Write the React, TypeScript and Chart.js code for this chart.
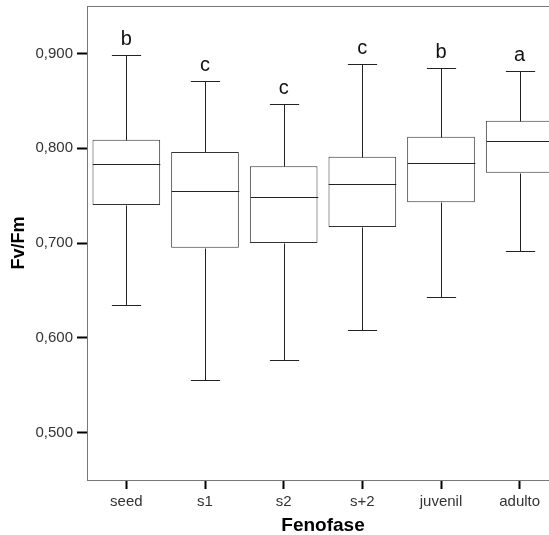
import React, { useEffect, useRef } from "react";
import { Chart, registerables } from "chart.js";

Chart.register(...registerables);

const categories = ["seed", "s1", "s2", "s+2", "juvenil", "adulto"];
const whiskerMax = [0.898, 0.871, 0.847, 0.889, 0.885, 0.881];
const q3 = [0.809, 0.796, 0.781, 0.791, 0.812, 0.829];
const median = [0.783, 0.755, 0.749, 0.762, 0.784, 0.808];
const q1 = [0.74, 0.695, 0.7, 0.717, 0.743, 0.774];
const whiskerMin = [0.635, 0.556, 0.577, 0.608, 0.643, 0.692];
const sigLetters = ["b", "c", "c", "c", "b", "a"];
const yTickValues = [0.5, 0.6, 0.7, 0.8, 0.9];
const yMin = 0.45;
const yMax = 0.95;

const FONT = '"Liberation Sans", Arial, sans-serif';
const CANVAS_W = 570;
const CANVAS_H = 535;

const boxDecor = {
  id: "boxDecor",
  afterDatasetsDraw(chart: any) {
    const { ctx, chartArea, scales } = chart;
    const y = scales.y;
    const meta = chart.getDatasetMeta(0);
    ctx.save();
    ctx.strokeStyle = "#777";
    ctx.lineWidth = 1;
    ctx.beginPath();
    ctx.moveTo(chartArea.left, Math.round(chartArea.top) + 0.5);
    ctx.lineTo(chartArea.right, Math.round(chartArea.top) + 0.5);
    ctx.stroke();

    ctx.strokeStyle = "#222";
    ctx.lineWidth = 1;
    meta.data.forEach((bar: any, i: number) => {
      const cx = Math.round(bar.x) + 0.5;
      const half = bar.width / 2;
      const capHalf = bar.width * 0.216;
      const py = (v: number) => Math.round(y.getPixelForValue(v)) + 0.5;
      ctx.beginPath();
      ctx.moveTo(cx - half, py(median[i]));
      ctx.lineTo(cx + half, py(median[i]));
      ctx.moveTo(cx, py(q3[i]));
      ctx.lineTo(cx, py(whiskerMax[i]));
      ctx.moveTo(cx - capHalf, py(whiskerMax[i]));
      ctx.lineTo(cx + capHalf, py(whiskerMax[i]));
      ctx.moveTo(cx, py(q1[i]));
      ctx.lineTo(cx, py(whiskerMin[i]));
      ctx.moveTo(cx - capHalf, py(whiskerMin[i]));
      ctx.lineTo(cx + capHalf, py(whiskerMin[i]));
      ctx.stroke();

      ctx.fillStyle = "#111";
      ctx.font = `20px ${FONT}`;
      ctx.textAlign = "center";
      ctx.textBaseline = "alphabetic";
      ctx.fillText(sigLetters[i], bar.x, y.getPixelForValue(whiskerMax[i]) - 10);
    });
    ctx.restore();
  },
};

export default function App() {
  const ref = useRef<HTMLCanvasElement | null>(null);

  useEffect(() => {
    if (!ref.current) return;
    const chart = new Chart(ref.current, {
      type: "bar",
      data: {
        labels: categories,
        datasets: [
          {
            data: categories.map((_, i) => [q1[i], q3[i]]),
            backgroundColor: "#ffffff",
            borderColor: "#333",
            borderWidth: 1,
            borderSkipped: false,
            barPercentage: 0.86,
            categoryPercentage: 1,
          },
        ],
      },
      options: {
        responsive: false,
        animation: false,
        devicePixelRatio: 1,
        layout: { padding: { top: 6, right: CANVAS_W - 559, left: 0, bottom: 0 } },
        plugins: {
          legend: { display: false },
          tooltip: { enabled: false },
        },
        scales: {
          x: {
            grid: {
              display: true,
              offset: false,
              drawOnChartArea: false,
              drawTicks: true,
              tickLength: 9,
              tickWidth: 2,
              tickColor: "#000",
            },
            border: { display: true, color: "#777", width: 1 },
            ticks: {
              color: "#333",
              font: { family: FONT, size: 15 },
              padding: 4,
              maxRotation: 0,
            },
            title: {
              display: true,
              text: "Fenofase",
              color: "#000",
              font: { family: FONT, size: 19, weight: "bold" },
              padding: { top: 0, bottom: -2 },
            },
            afterFit: (s: any) => {
              s.height = CANVAS_H - 480;
              s.paddingLeft = 0;
              s.paddingRight = 0;
            },
          },
          y: {
            min: yMin,
            max: yMax,
            afterBuildTicks: (s: any) => {
              s.ticks = yTickValues.map((v) => ({ value: v }));
            },
            grid: {
              display: true,
              drawOnChartArea: false,
              drawTicks: true,
              tickLength: 10,
              tickWidth: 2,
              tickColor: "#000",
            },
            border: { display: true, color: "#777", width: 1 },
            ticks: {
              color: "#333",
              font: { family: FONT, size: 15 },
              padding: 4,
              callback: (v: any) => Number(v).toFixed(3).replace(".", ","),
            },
            title: {
              display: true,
              text: "Fv/Fm",
              color: "#000",
              font: { family: FONT, size: 18, weight: "bold" },
              padding: { top: 8, bottom: 0 },
            },
            afterFit: (s: any) => {
              s.width = 87;
              s.paddingTop = 0;
              s.paddingBottom = 0;
            },
          },
        },
      },
      plugins: [boxDecor],
    });
    return () => chart.destroy();
  }, []);

  return (
    <div
      style={{
        position: "fixed",
        left: 0,
        top: 0,
        width: 549,
        height: 535,
        overflow: "hidden",
        background: "#fff",
      }}
    >
      <canvas
        ref={ref}
        width={CANVAS_W}
        height={CANVAS_H}
        style={{ display: "block", width: CANVAS_W, height: CANVAS_H }}
      />
    </div>
  );
}
